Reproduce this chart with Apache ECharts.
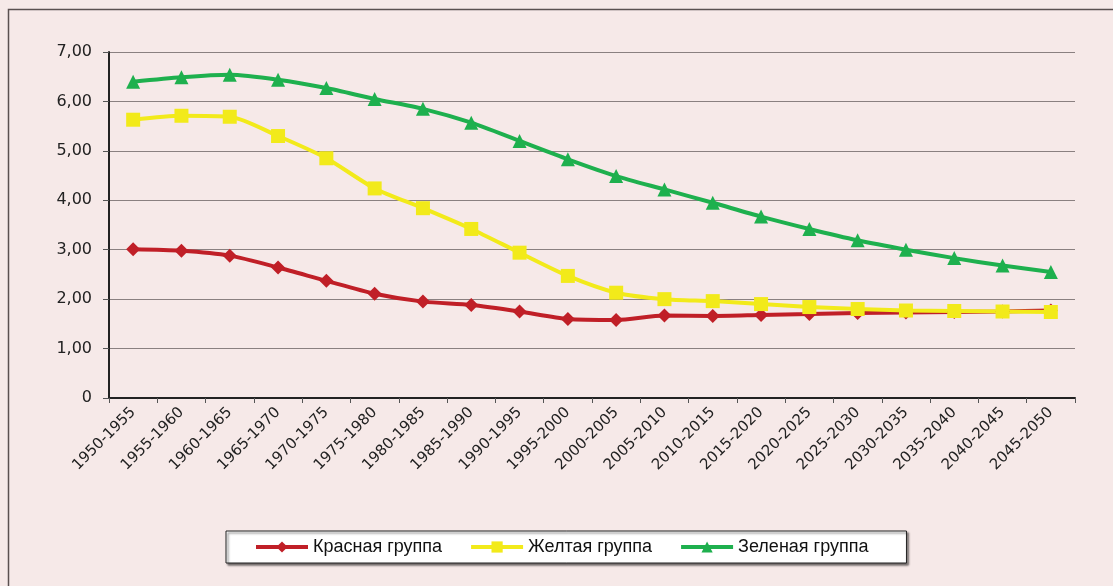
<!DOCTYPE html>
<html>
<head>
<meta charset="utf-8">
<script src="https://cdn.jsdelivr.net/npm/echarts@6/dist/echarts.min.js"></script>
<style>
  html, body { margin: 0; padding: 0; background: #f6e9e8; }
  #chart { width: 1113px; height: 586px; }
</style>
</head>
<body>
<div id="chart"></div>
<script>
// Periods (x axis)
const periods = [
    '1950-1955', '1955-1960', '1960-1965', '1965-1970', '1970-1975',
    '1975-1980', '1980-1985', '1985-1990', '1990-1995', '1995-2000',
    '2000-2005', '2005-2010', '2010-2015', '2015-2020', '2020-2025',
    '2025-2030', '2030-2035', '2035-2040', '2040-2045', '2045-2050'
];

// Series values
const redGroup = [3.01, 2.98, 2.88, 2.64, 2.37, 2.11, 1.95, 1.88, 1.75, 1.60,
                  1.58, 1.67, 1.66, 1.68, 1.70, 1.72, 1.73, 1.74, 1.75, 1.77];
const yellowGroup = [5.63, 5.71, 5.69, 5.30, 4.85, 4.24, 3.84, 3.42, 2.94, 2.47,
                     2.13, 2.00, 1.96, 1.90, 1.84, 1.80, 1.77, 1.76, 1.75, 1.74];
const greenGroup = [6.40, 6.49, 6.54, 6.44, 6.27, 6.05, 5.85, 5.57, 5.20, 4.83,
                    4.49, 4.22, 3.95, 3.67, 3.42, 3.19, 3.00, 2.83, 2.68, 2.55];

const seriesNames = ['Красная группа', 'Желтая группа', 'Зеленая группа'];

const chart = echarts.init(document.getElementById('chart'));

function makeSeries(name, data, color, symbol, size) {
    return {
        name: name,
        type: 'line',
        data: data,
        smooth: 0.25,
        symbol: symbol,
        symbolSize: size,
        lineStyle: { color: color, width: 4 },
        itemStyle: { color: color },
        emphasis: { disabled: true }
    };
}

const option = {
    backgroundColor: '#f6e9e8',
    animation: false,
    textStyle: { fontFamily: 'DejaVu Sans' },
    graphic: [{
        type: 'rect',
        shape: { x: 8.5, y: 9.5, width: 1200, height: 700 },
        style: { fill: 'none', stroke: '#5a5050', lineWidth: 1.5 },
        silent: true
    }],
    grid: {
        left: 109,
        right: 38,
        top: 52,
        bottom: 188
    },
    legend: {
        data: seriesNames,
        left: 226,
        top: 531,
        backgroundColor: '#ffffff',
        borderColor: '#222',
        borderWidth: 1,
        padding: [7, 38, 7, 28],
        itemGap: 27,
        itemWidth: 52,
        itemHeight: 14,
        lineStyle: { width: 4 },
        shadowColor: 'rgba(0,0,0,0.55)',
        shadowBlur: 2,
        shadowOffsetX: 2,
        shadowOffsetY: 2,
        textStyle: {
            fontFamily: 'Liberation Sans',
            fontSize: 18,
            color: '#111'
        }
    },
    xAxis: {
        type: 'category',
        data: periods,
        boundaryGap: true,
        axisLine: { lineStyle: { color: '#222', width: 2 } },
        axisTick: { show: true, interval: 0, length: 5, lineStyle: { color: '#555' } },
        axisLabel: {
            interval: 0,
            rotate: 45,
            fontFamily: 'DejaVu Sans',
            fontSize: 15,
            color: '#222',
            margin: 12
        }
    },
    yAxis: {
        type: 'value',
        min: 0,
        max: 7,
        interval: 1,
        axisLine: { show: true, lineStyle: { color: '#222', width: 2 } },
        axisTick: { show: true, length: 6, lineStyle: { color: '#555' } },
        splitLine: { lineStyle: { color: '#8a8080', width: 1.2 } },
        axisLabel: {
            fontFamily: 'DejaVu Sans',
            fontSize: 16,
            color: '#222',
            margin: 17,
            formatter: v => v === 0 ? '0' : v.toFixed(2).replace('.', ',')
        }
    },
    series: [
        makeSeries(seriesNames[0], redGroup, '#c01f27', 'diamond', 14),
        makeSeries(seriesNames[1], yellowGroup, '#f2ea1a', 'rect', 14),
        makeSeries(seriesNames[2], greenGroup, '#1eb04e', 'triangle', 14)
    ]
};

chart.setOption(option);
</script>
</body>
</html>
